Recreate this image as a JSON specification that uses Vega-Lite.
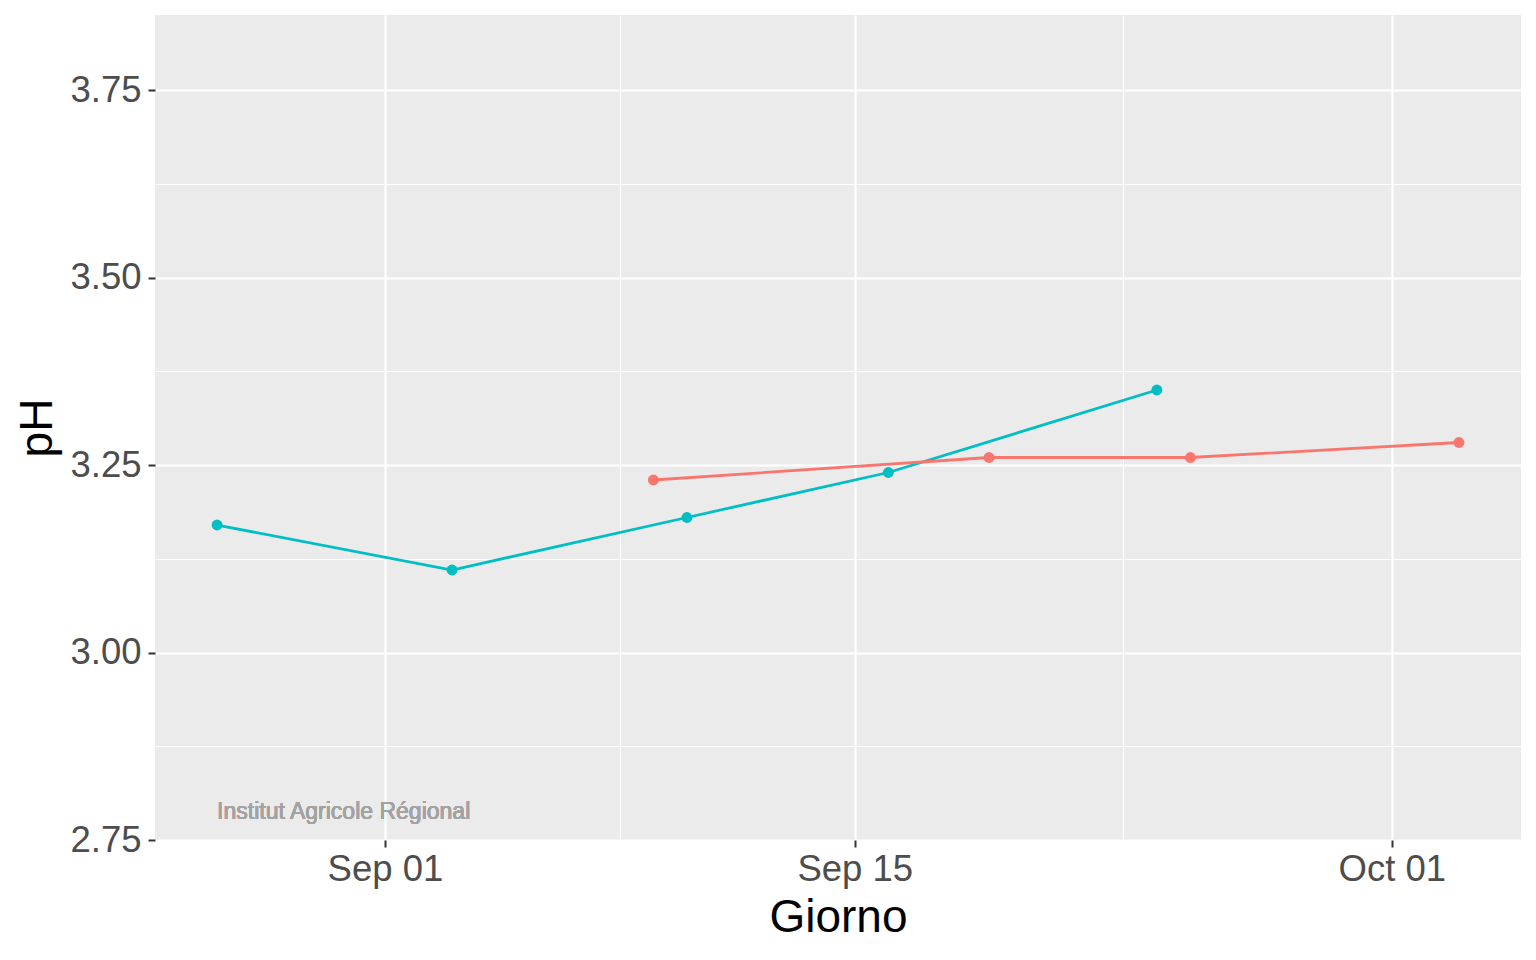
{
  "$schema": "https://vega.github.io/schema/vega-lite/v6.json",
  "autosize": {"type": "none"},
  "padding": {"left": 155, "top": 15, "right": 15, "bottom": 120},
  "width": 1366,
  "height": 825,
  "background": "white",
  "config": {
    "view": {"fill": "#EBEBEB", "stroke": null},
    "axis": {
      "domain": false,
      "tickColor": "#333333",
      "tickWidth": 2,
      "tickSize": 7,
      "labelColor": "#4D4D4D",
      "labelFont": "Liberation Sans",
      "labelFontSize": 36.5,
      "titleFont": "Liberation Sans",
      "titleFontSize": 46,
      "titleFontWeight": "normal",
      "titleColor": "#000000",
      "gridColor": "#FFFFFF",
      "gridOpacity": 1
    }
  },
  "data": {
    "values": [
      {"Giorno": "2021-08-27", "pH": 3.17, "Serie": "B"},
      {"Giorno": "2021-09-03", "pH": 3.11, "Serie": "B"},
      {"Giorno": "2021-09-10", "pH": 3.18, "Serie": "B"},
      {"Giorno": "2021-09-16", "pH": 3.24, "Serie": "B"},
      {"Giorno": "2021-09-24", "pH": 3.35, "Serie": "B"},
      {"Giorno": "2021-09-09", "pH": 3.23, "Serie": "A"},
      {"Giorno": "2021-09-19", "pH": 3.26, "Serie": "A"},
      {"Giorno": "2021-09-25", "pH": 3.26, "Serie": "A"},
      {"Giorno": "2021-10-03", "pH": 3.28, "Serie": "A"}
    ]
  },
  "layer": [
    {
      "mark": {"type": "line", "strokeWidth": 2.8},
      "encoding": {
        "x": {
          "field": "Giorno", "type": "temporal",
          "scale": {"type": "utc", "nice": false, "domain": [
            {"year": 2021, "month": 8, "date": 25, "hours": 3, "minutes": 36, "utc": true},
            {"year": 2021, "month": 10, "date": 4, "hours": 20, "minutes": 24, "utc": true}
          ]},
          "axis": {
            "orient": "bottom", "title": null, "labels": false, "ticks": false, "domain": false,
            "grid": true, "gridWidth": 1.1,
            "values": [
              {"year": 2021, "month": 9, "date": 8, "utc": true},
              {"year": 2021, "month": 9, "date": 23, "utc": true}
            ]
          }
        },
        "y": {
          "field": "pH", "type": "quantitative",
          "scale": {"domain": [2.75, 3.85], "nice": false, "zero": false},
          "axis": {
            "orient": "left", "title": null, "labels": false, "ticks": false, "domain": false,
            "grid": true, "gridWidth": 1.1,
            "values": [2.875, 3.125, 3.375, 3.625]
          }
        },
        "color": {
          "field": "Serie", "type": "nominal",
          "scale": {"domain": ["A", "B"], "range": ["#F8766D", "#00BFC4"]},
          "legend": null
        }
      }
    },
    {
      "mark": {"type": "point", "filled": true, "size": 120, "opacity": 1},
      "encoding": {
        "x": {
          "field": "Giorno", "type": "temporal",
          "axis": {
            "orient": "bottom", "title": "Giorno",
            "labelExpr": "utcFormat(datum.value, '%b %d')",
            "grid": true, "gridWidth": 2.2, "labelPadding": 4, "titlePadding": 8,
            "values": [
              {"year": 2021, "month": 9, "date": 1, "utc": true},
              {"year": 2021, "month": 9, "date": 15, "utc": true},
              {"year": 2021, "month": 10, "date": 1, "utc": true}
            ]
          }
        },
        "y": {
          "field": "pH", "type": "quantitative",
          "axis": {
            "orient": "left", "title": "pH", "format": ".2f",
            "grid": true, "gridWidth": 2.2, "labelPadding": 7, "titlePadding": 8,
            "values": [2.75, 3.0, 3.25, 3.5, 3.75]
          }
        },
        "color": {"field": "Serie", "type": "nominal", "legend": null}
      }
    },
    {
      "mark": {"type": "text", "text": "Institut Agricole Régional", "font": "Liberation Sans", "fontSize": 23, "color": "#A3A3A3", "align": "left", "baseline": "middle"},
      "encoding": {
        "x": {"datum": {"year": 2021, "month": 8, "date": 27, "utc": true}, "type": "temporal", "axis": null},
        "y": {"datum": 2.787, "type": "quantitative", "axis": null}
      }
    }
  ],
  "resolve": {"axis": {"x": "independent", "y": "independent"}}
}
